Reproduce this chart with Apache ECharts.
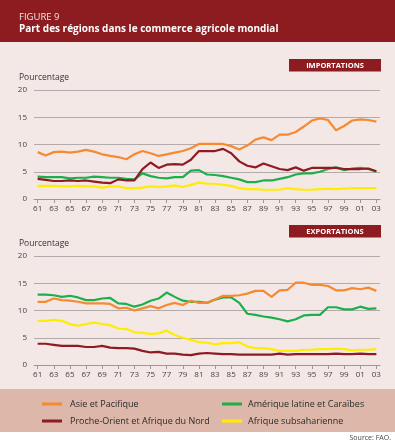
<!DOCTYPE html>
<html><head><meta charset="utf-8">
<script src="https://cdn.jsdelivr.net/npm/echarts@6/dist/echarts.min.js"></script>
<style>html,body{margin:0;padding:0;background:#fff}#c{width:395px;height:442px}</style>
</head><body><div id="c"></div>
<script>
var years = [1961,1962,1963,1964,1965,1966,1967,1968,1969,1970,1971,1972,1973,1974,1975,1976,1977,1978,1979,1980,1981,1982,1983,1984,1985,1986,1987,1988,1989,1990,1991,1992,1993,1994,1995,1996,1997,1998,1999,2000,2001,2002,2003];
var tickYears = [1961,1963,1965,1967,1969,1971,1973,1975,1977,1979,1981,1983,1985,1987,1989,1991,1993,1995,1997,1999,2001,2003];
var seriesNames = ['Asie et Pacifique','Proche-Orient et Afrique du Nord','Amérique latine et Caraïbes','Afrique subsaharienne'];

var impAsia = [8.6,8.0,8.6,8.7,8.5,8.7,9.0,8.7,8.2,7.9, 7.7,7.3,8.2,8.8,8.4,7.9,8.2,8.5,8.8,9.3, 10.1, 10.1,10.1,10.1,9.7,9.1,9.8,10.9,11.3,10.8, 11.8,11.8,12.3,13.3,14.4,14.8,14.5,12.6,13.4,14.4, 14.6,14.5,14.2];
var impNear = [3.7,3.5,3.3,3.3,3.4,3.3,3.4,3.2,3.0,2.9, 3.6,3.4,3.4,5.5,6.7,5.7,6.3,6.4,6.3,7.2, 8.8, 8.8,8.8,9.2,8.4,6.9,6.1,5.8,6.5,6.0, 5.5,5.3,5.8,5.2,5.7,5.7,5.7,5.7,5.5,5.5, 5.5,5.6,5.1];
var impLatam = [4.1,4.0,4.0,4.0,3.8,3.9,3.9,4.1,4.0,3.9, 3.9,3.7,3.6,4.7,4.2,3.9,3.8,4.0,4.0,5.2, 5.3, 4.5,4.4,4.2,3.9,3.6,3.1,3.1,3.4,3.4, 3.7,4.0,4.5,4.7,4.7,5.0,5.5,5.8,5.3,5.6, 5.7,5.5,5.0];
var impSSA = [2.4,2.4,2.4,2.3,2.3,2.4,2.3,2.3,2.1,2.3, 2.3,2.0,2.0,2.1,2.3,2.2,2.3,2.5,2.2,2.6, 3.0, 2.8,2.8,2.6,2.4,2.0,1.8,1.8,1.7,1.7, 1.7,2.0,1.8,1.7,1.7,1.8,1.9,1.8,1.9,2.0, 2.0,2.0,2.0];

var expAsia = [11.6,11.6,12.2,11.9,11.8,11.6,11.3,11.3,11.3,11.2, 10.4,10.5,10.0,10.4,10.8,10.4,11.0,11.4,11.0,11.8, 11.4, 11.4,12.0,12.7,12.7,12.8,13.1,13.6,13.6,12.5, 13.7,13.8,15.1,15.1,14.7,14.7,14.5,13.7,13.7,14.1, 13.9,14.2,13.6];
var expNear = [3.9,3.9,3.7,3.5,3.5,3.5,3.3,3.3,3.5,3.2, 3.1,3.1,3.0,2.6,2.3,2.4,2.1,2.1,1.9,1.8, 2.1, 2.2,2.1,2.0,2.0,1.9,1.9,1.9,1.9,1.9, 2.1,1.9,2.0,2.0,2.0,2.0,2.0,2.1,2.0,2.0, 2.1,2.0,2.0];
var expLatam = [12.9,12.9,12.8,12.5,12.7,12.4,11.9,11.9,12.2,12.3, 11.3,11.2,10.7,11.1,11.8,12.2,13.3,12.5,11.8,11.6, 11.6, 11.4,12.0,12.4,12.4,11.4,9.4,9.2,8.9,8.7, 8.4,8.0,8.4,9.1,9.2,9.2,10.6,10.6,10.2,10.2, 10.7,10.3,10.4];
var expSSA = [8.1,8.1,8.3,8.1,7.5,7.2,7.5,7.8,7.5,7.3, 6.7,6.6,6.0,5.9,5.7,5.8,6.3,5.5,5.0,4.6, 4.2, 4.1,3.8,4.0,4.0,4.2,3.4,3.1,3.1,2.9, 2.6,2.6,2.6,2.8,2.8,2.9,2.9,3.0,2.9,2.7, 2.8,2.8,2.9];

var colors = {'Asie et Pacifique':'#F58A32','Proche-Orient et Afrique du Nord':'#8E1B21','Amérique latine et Caraïbes':'#1DAF4C','Afrique subsaharienne':'#FFEC00'};
var FONT = '"Open Sans", "Noto Sans", sans-serif';

function pairs(arr){ return arr.map(function(v,i){ return [years[i], v]; }); }

function xAx(gi){
  return {
    type:'value', gridIndex:gi, min:1960.55, max:2003.45,
    axisLine:{show:true, lineStyle:{color:'#9d9696', width:1}},
    axisTick:{show:true, customValues:tickYears, length:4, lineStyle:{color:'#9d9696'}},
    axisLabel:{show:true, customValues:tickYears, margin:6, fontSize:8, color:'#444', fontFamily:FONT,
      formatter:function(v){ return String(v).slice(2); }},
    splitLine:{show:false}
  };
}
function yAx(gi){
  return {
    type:'value', gridIndex:gi, min:0, max:20, interval:5,
    axisLine:{show:false}, axisTick:{show:false},
    axisLabel:{fontSize:8, color:'#444', margin:7, fontFamily:FONT},
    splitLine:{show:true, lineStyle:{color:'#b3abab', width:1}}
  };
}
function line(name, arr, gi){
  return {
    name:name, type:'line', xAxisIndex:gi, yAxisIndex:gi, data:pairs(arr),
    showSymbol:false, symbol:'none', lineStyle:{width:2.2, color:colors[name]},
    itemStyle:{color:colors[name]}, animation:false
  };
}

var chart = echarts.init(document.getElementById('c'), null, {renderer:'canvas'});
chart.setOption({
  backgroundColor:'#ffffff',
  animation:false,
  textStyle:{fontFamily:FONT},
  graphic:[
    {type:'rect', z:-10, shape:{x:0,y:0,width:395,height:42}, style:{fill:'#8C1C20'}},
    {type:'rect', z:-10, shape:{x:0,y:42,width:395,height:347}, style:{fill:'#F3E8E6'}},
    {type:'rect', z:-10, shape:{x:0,y:389,width:395,height:43}, style:{fill:'#DCB7AA'}},
    {type:'text', left:19, top:12, style:{text:'FIGURE 9', fill:'#f4e4e4', font:'9.5px '+FONT}},
    {type:'text', left:19, top:24, style:{text:'Part des régions dans le commerce agricole mondial', fill:'#ffffff', font:'bold 10px '+FONT}},
    {type:'rect', shape:{x:289,y:59,width:92,height:12.5}, style:{fill:'#8C1C20'}},
    {type:'text', x:335, y:65.5, style:{text:'IMPORTATIONS', fill:'#ffffff', font:'bold 7.5px '+FONT, align:'center', verticalAlign:'middle'}},
    {type:'rect', shape:{x:289,y:225,width:92,height:12.5}, style:{fill:'#8C1C20'}},
    {type:'text', x:335, y:231.5, style:{text:'EXPORTATIONS', fill:'#ffffff', font:'bold 7.5px '+FONT, align:'center', verticalAlign:'middle'}},
    {type:'text', x:19, y:78, style:{text:'Pourcentage', fill:'#333', font:'8.5px '+FONT, verticalAlign:'middle'}},
    {type:'text', x:19, y:243.5, style:{text:'Pourcentage', fill:'#333', font:'8.5px '+FONT, verticalAlign:'middle'}},
    {type:'text', x:391, y:437.5, style:{text:'Source: FAO.', fill:'#444', font:'7px '+FONT, align:'right', verticalAlign:'middle'}}
  ],
  grid:[
    {left:34, right:15, top:90, height:109},
    {left:34, right:15, top:256, height:109}
  ],
  xAxis:[xAx(0), xAx(1)],
  yAxis:[yAx(0), yAx(1)],
  legend:[
    {data:[seriesNames[0], seriesNames[1]], orient:'vertical', left:37, top:393, itemWidth:20, itemHeight:3, itemGap:5,
     icon:'rect', textStyle:{fontSize:9, color:'#2a2a2a', lineHeight:12, fontFamily:FONT, padding:[0,0,0,3]}, selectedMode:false},
    {data:[seriesNames[2], seriesNames[3]], orient:'vertical', left:217, top:393, itemWidth:20, itemHeight:3, itemGap:5,
     icon:'rect', textStyle:{fontSize:9, color:'#2a2a2a', lineHeight:12, fontFamily:FONT, padding:[0,0,0,1]}, selectedMode:false}
  ],
  series:[
    line(seriesNames[3], impSSA, 0),
    line(seriesNames[2], impLatam, 0),
    line(seriesNames[1], impNear, 0),
    line(seriesNames[0], impAsia, 0),
    line(seriesNames[3], expSSA, 1),
    line(seriesNames[1], expNear, 1),
    line(seriesNames[2], expLatam, 1),
    line(seriesNames[0], expAsia, 1)
  ]
});
</script></body></html>
